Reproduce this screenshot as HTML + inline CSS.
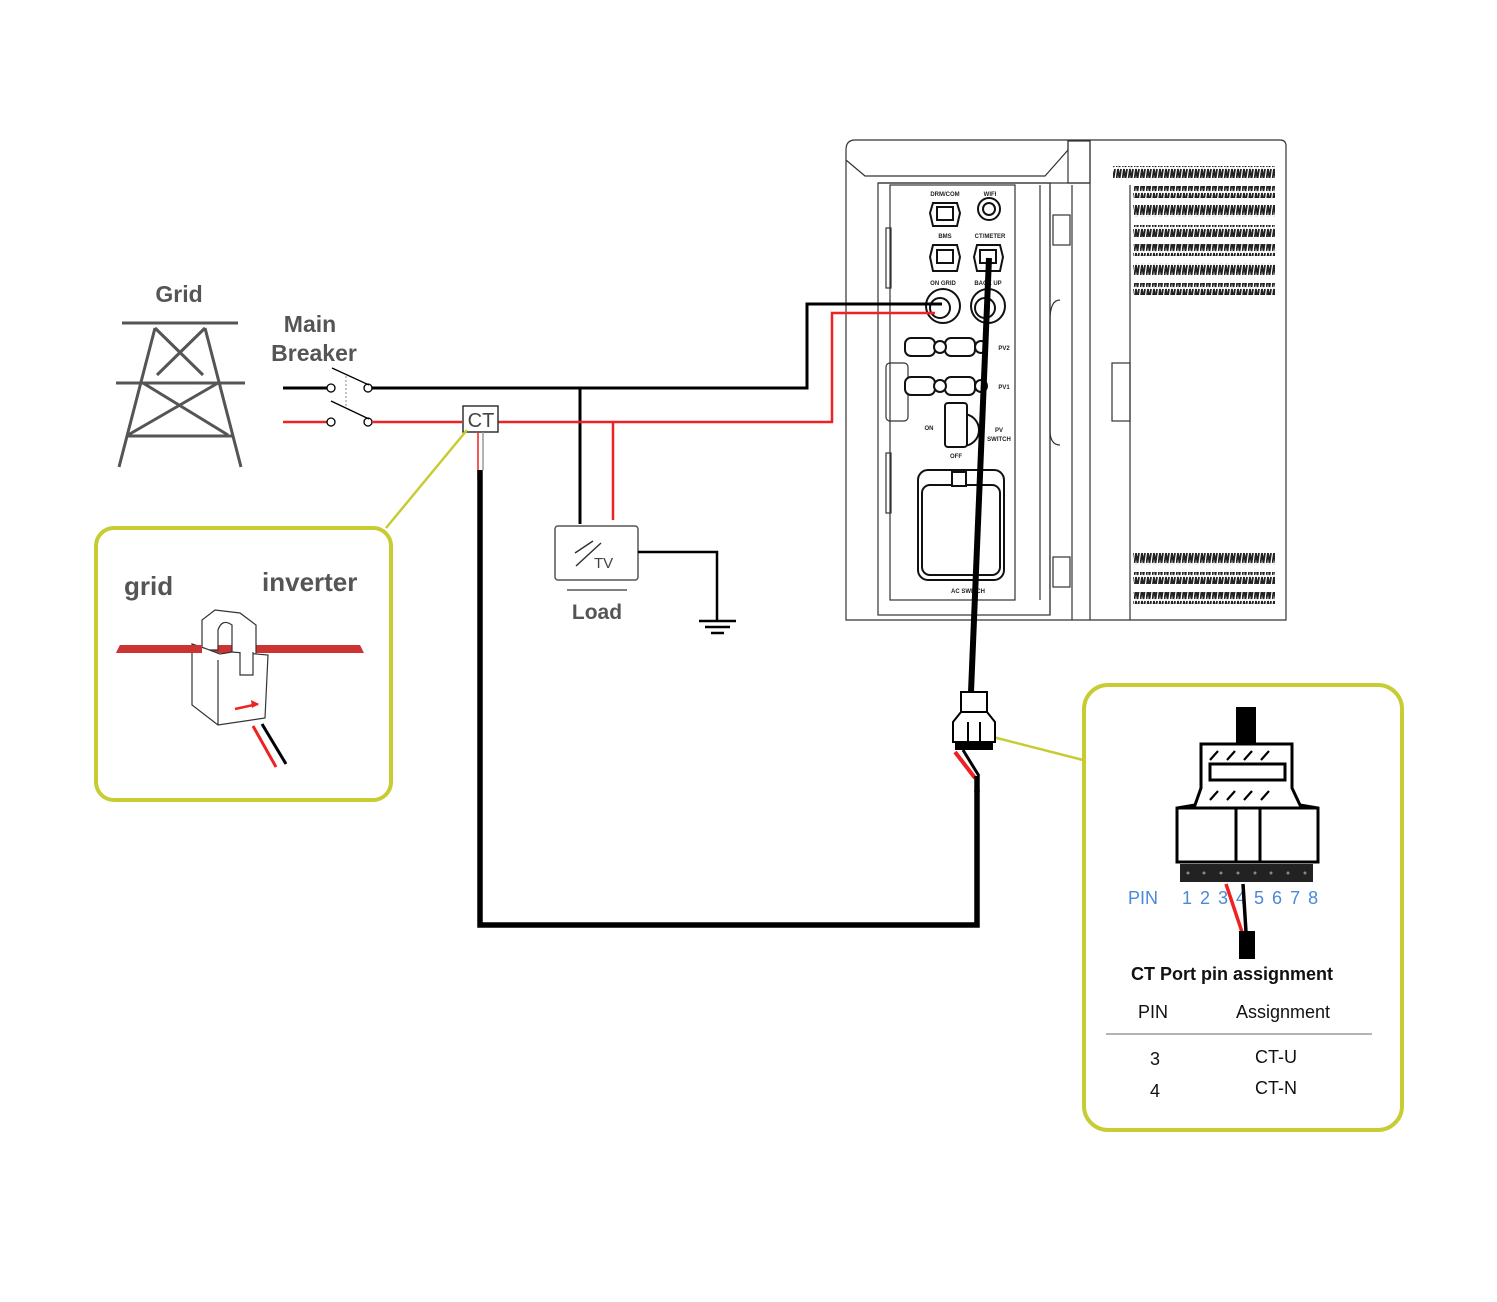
<!DOCTYPE html>
<html><head><meta charset="utf-8">
<style>
html,body{margin:0;padding:0;background:#fff;}
svg{display:block;}
text{font-family:"Liberation Sans",Arial,sans-serif;}
</style></head>
<body>
<svg width="1497" height="1302" viewBox="0 0 1497 1302" xmlns="http://www.w3.org/2000/svg">
<defs>
<pattern id="vent" x="0" y="0" width="6" height="12" patternUnits="userSpaceOnUse">
<path d="M0.5,11 L2,1 L3.5,11 L5,1" fill="none" stroke="#222" stroke-width="1.8"/>
</pattern>
</defs>

<!-- Grid tower -->
<g stroke="#555" stroke-width="3" fill="none">
<line x1="122" y1="323" x2="238" y2="323"/>
<line x1="116" y1="383" x2="245" y2="383"/>
<line x1="155" y1="328" x2="119" y2="467"/>
<line x1="205" y1="328" x2="241" y2="467"/>
<line x1="155" y1="328" x2="203" y2="375"/>
<line x1="205" y1="328" x2="157" y2="375"/>
<line x1="143" y1="383" x2="228" y2="435"/>
<line x1="218" y1="383" x2="128" y2="435"/>
<line x1="127" y1="436" x2="233" y2="436"/>
</g>
<text x="179" y="302" font-size="23" font-weight="bold" fill="#555" text-anchor="middle">Grid</text>
<text x="310" y="332" font-size="23" font-weight="bold" fill="#555" text-anchor="middle">Main</text>
<text x="314" y="361" font-size="23" font-weight="bold" fill="#555" text-anchor="middle">Breaker</text>

<!-- Breaker -->
<line x1="283" y1="388" x2="327" y2="388" stroke="#000" stroke-width="3"/>
<line x1="283" y1="422" x2="327" y2="422" stroke="#e22" stroke-width="2.5"/>
<circle cx="331" cy="388" r="4" fill="#fff" stroke="#000" stroke-width="1.3"/>
<circle cx="368" cy="388" r="4" fill="#fff" stroke="#000" stroke-width="1.3"/>
<circle cx="331" cy="422" r="4" fill="#fff" stroke="#000" stroke-width="1.3"/>
<circle cx="368" cy="422" r="4" fill="#fff" stroke="#000" stroke-width="1.3"/>
<line x1="332" y1="368" x2="369" y2="385" stroke="#000" stroke-width="1.3"/>
<line x1="331" y1="401" x2="369" y2="419" stroke="#000" stroke-width="1.3"/>
<line x1="346" y1="376" x2="346" y2="408" stroke="#888" stroke-width="1" stroke-dasharray="2,2"/>

<!-- Inverter -->
<g stroke="#333" stroke-width="1.2" fill="none">
<path d="M855,140 L1280,140 Q1286,140 1286,146 L1286,620 L846,620 L846,150 Q846,140 855,140 Z" fill="#fff"/>
<path d="M846,160 L865,176 L1045,176 L1068,150 L1068,140"/>
<rect x="1068" y="141" width="22" height="42"/>
<line x1="1090" y1="140" x2="1090" y2="620"/>
<line x1="878" y1="183" x2="1090" y2="183"/>
<rect x="878" y="183" width="172" height="432"/>
<rect x="890" y="185" width="125" height="415"/>
<line x1="1040" y1="185" x2="1040" y2="600"/>
<line x1="1050" y1="185" x2="1050" y2="615"/>
<line x1="1072" y1="185" x2="1072" y2="620"/>
<line x1="1130" y1="185" x2="1130" y2="620"/>
<rect x="1112" y="363" width="18" height="58"/>
<rect x="1053" y="215" width="17" height="30"/>
<rect x="1053" y="557" width="17" height="30"/>
<path d="M1060,300 Q1050,300 1050,320 L1050,430 Q1050,445 1060,445"/>
<rect x="886" y="363" width="22" height="58" rx="4"/>
<rect x="886" y="228" width="5" height="60"/>
<rect x="886" y="453" width="5" height="60"/>
</g>
<!-- vents -->
<g fill="url(#vent)">
<rect x="1113" y="166" width="162" height="12"/>
<rect x="1133" y="186" width="142" height="12"/>
<rect x="1133" y="205" width="142" height="12"/>
<rect x="1133" y="225" width="142" height="12"/>
<rect x="1133" y="244" width="142" height="12"/>
<rect x="1133" y="263" width="142" height="12"/>
<rect x="1133" y="283" width="142" height="12"/>
<rect x="1133" y="553" width="142" height="12"/>
<rect x="1133" y="572" width="142" height="12"/>
<rect x="1133" y="592" width="142" height="12"/>
</g>
<!-- ports -->
<g stroke="#111" stroke-width="2" fill="#fff">
<polygon points="933,203 957,203 960,213 957,226 933,226 930,213"/>
<rect x="937" y="207" width="16" height="13"/>
<circle cx="989" cy="209" r="11"/><circle cx="989" cy="209" r="6"/>
<polygon points="933,245 957,245 960,257 957,271 933,271 930,257"/>
<rect x="937" y="250" width="16" height="13"/>
<polygon points="977,245 1000,245 1003,257 1000,271 977,271 974,257"/>
<rect x="980" y="250" width="16" height="13"/>
<circle cx="943" cy="306" r="17"/><circle cx="940" cy="308" r="10"/>
<circle cx="988" cy="306" r="17"/><circle cx="985" cy="308" r="10"/>
<rect x="905" y="338" width="30" height="18" rx="6"/><rect x="945" y="338" width="30" height="18" rx="6"/>
<rect x="905" y="377" width="30" height="18" rx="6"/><rect x="945" y="377" width="30" height="18" rx="6"/>
<circle cx="940" cy="347" r="6"/><circle cx="981" cy="347" r="6"/>
<circle cx="940" cy="386" r="6"/><circle cx="981" cy="386" r="6"/>
<circle cx="963" cy="430" r="16"/>
<rect x="945" y="403" width="22" height="44" rx="3"/>
<rect x="918" y="470" width="86" height="110" rx="10"/>
<rect x="922" y="485" width="78" height="90" rx="8"/>
<rect x="952" y="472" width="14" height="14"/>
</g>
<g font-size="6" font-weight="bold" fill="#222" text-anchor="middle">
<text x="945" y="196">DRM/COM</text><text x="990" y="196">WIFI</text>
<text x="945" y="238">BMS</text><text x="990" y="238">CT/METER</text>
<text x="943" y="285">ON GRID</text><text x="988" y="285">BACK UP</text>
<text x="1004" y="350">PV2</text><text x="1004" y="389">PV1</text>
<text x="929" y="430">ON</text><text x="999" y="432">PV</text><text x="999" y="441">SWITCH</text>
<text x="956" y="458">OFF</text><text x="968" y="593">AC SWITCH</text>
</g>

<!-- Main black wire -->
<polyline points="372,388 807,388 807,304 942,304" fill="none" stroke="#000" stroke-width="3"/>
<line x1="580" y1="388" x2="580" y2="524" stroke="#000" stroke-width="3"/>
<!-- Main red wire -->
<polyline points="372,422 462,422" fill="none" stroke="#e22" stroke-width="2.5"/>
<polyline points="498,422 832,422 832,313 935,313" fill="none" stroke="#e22" stroke-width="2.5"/>
<line x1="613" y1="422" x2="613" y2="520" stroke="#e22" stroke-width="2.5"/>

<!-- CT box -->
<rect x="463" y="406" width="35" height="26" fill="#fff" stroke="#333" stroke-width="1.5"/>
<text x="481" y="427" font-size="20" fill="#444" text-anchor="middle">CT</text>
<line x1="478" y1="432" x2="478" y2="480" stroke="#e22" stroke-width="1.5"/>
<line x1="483" y1="432" x2="483" y2="470" stroke="#999" stroke-width="1.5"/>
<polyline points="480,470 480,925 977,925 977,790" fill="none" stroke="#000" stroke-width="5.5"/>

<!-- yellow leaders -->
<line x1="467" y1="430" x2="386" y2="528" stroke="#c8cc33" stroke-width="2.5"/>
<line x1="993" y1="737" x2="1083" y2="760" stroke="#c8cc33" stroke-width="2.5"/>

<!-- Left callout -->
<rect x="96" y="528" width="295" height="272" rx="18" fill="#fff" stroke="#c8cc33" stroke-width="4"/>
<text x="124" y="595" font-size="26" font-weight="bold" fill="#555">grid</text>
<text x="262" y="591" font-size="26" font-weight="bold" fill="#555">inverter</text>
<polygon points="120,645 360,645 364,653 116,653" fill="#cc3333"/>
<g stroke="#333" stroke-width="1.2" fill="#fff">
<path d="M202,620 L202,650 L218,650 L218,630 Q222,618 232,625 L232,660 L256,662 L256,625 L240,613 L215,610 Z"/>
<path d="M192,644 L192,705 L218,725 L265,718 L268,655 L232,652 L220,654 L204,648 Z"/>
<line x1="218" y1="660" x2="218" y2="725"/>
<path d="M240,652 L240,675 L253,675 L253,652"/>
</g>
<polygon points="120,645 202,645 202,653 116,653" fill="#cc3333"/>
<line x1="235" y1="709" x2="258" y2="704" stroke="#e22" stroke-width="2.5"/>
<polygon points="259,704 251,700 252,708" fill="#e22"/>
<line x1="253" y1="726" x2="276" y2="767" stroke="#e22" stroke-width="3"/>
<line x1="262" y1="724" x2="286" y2="764" stroke="#000" stroke-width="3"/>

<!-- Load -->
<rect x="555" y="526" width="83" height="54" rx="3" fill="#fff" stroke="#555" stroke-width="1.5"/>
<line x1="575" y1="553" x2="593" y2="541" stroke="#333" stroke-width="1.5"/>
<line x1="576" y1="566" x2="601" y2="543" stroke="#333" stroke-width="1.5"/>
<text x="594" y="568" font-size="15" fill="#444">TV</text>
<line x1="567" y1="590" x2="627" y2="590" stroke="#555" stroke-width="1.5"/>
<text x="597" y="619" font-size="21" font-weight="bold" fill="#555" text-anchor="middle">Load</text>
<polyline points="638,552 717,552 717,621" fill="none" stroke="#000" stroke-width="2.5"/>
<line x1="699" y1="621" x2="736" y2="621" stroke="#000" stroke-width="2.5"/>
<line x1="705" y1="627" x2="730" y2="627" stroke="#000" stroke-width="2.5"/>
<line x1="711" y1="633" x2="724" y2="633" stroke="#000" stroke-width="2.5"/>

<!-- CT cable to inverter -->
<line x1="989" y1="258" x2="971" y2="692" stroke="#000" stroke-width="6"/>
<!-- small connector -->
<g stroke="#000" stroke-width="2" fill="#fff">
<rect x="961" y="692" width="26" height="20"/>
<path d="M961,712 L953,722 L953,742 L995,742 L995,722 L987,712 Z"/>
<line x1="968" y1="722" x2="968" y2="742"/><line x1="980" y1="722" x2="980" y2="742"/>
</g>
<rect x="955" y="742" width="38" height="8" fill="#000"/>
<line x1="955" y1="752" x2="975" y2="778" stroke="#e22" stroke-width="4"/>
<line x1="963" y1="750" x2="979" y2="776" stroke="#000" stroke-width="3"/>
<line x1="977" y1="776" x2="977" y2="792" stroke="#000" stroke-width="5.5"/>

<!-- Right callout -->
<rect x="1084" y="685" width="318" height="445" rx="24" fill="#fff" stroke="#c8cc33" stroke-width="4"/>
<rect x="1236" y="707" width="20" height="38" fill="#000"/>
<g stroke="#000" stroke-width="3" fill="#fff">
<path d="M1201,744 L1292,744 L1292,788 L1300,805 L1318,808 L1318,862 L1177,862 L1177,808 L1195,805 L1201,788 Z"/>
<rect x="1210" y="764" width="75" height="16"/>
<line x1="1236" y1="808" x2="1236" y2="862"/><line x1="1260" y1="808" x2="1260" y2="862"/>
<line x1="1177" y1="808" x2="1318" y2="808"/>
</g>
<g stroke="#000" stroke-width="2.2" fill="none">
<path d="M1210,760 l8,-9 M1227,760 l8,-9 M1244,760 l8,-9 M1261,760 l8,-9"/>
<path d="M1210,800 l8,-9 M1227,800 l8,-9 M1244,800 l8,-9 M1261,800 l8,-9"/>
</g>
<rect x="1180" y="864" width="133" height="18" fill="#222"/>
<g fill="#888"><circle cx="1188" cy="873" r="1.5"/><circle cx="1204" cy="873" r="1.5"/><circle cx="1221" cy="873" r="1.5"/><circle cx="1238" cy="873" r="1.5"/><circle cx="1255" cy="873" r="1.5"/><circle cx="1271" cy="873" r="1.5"/><circle cx="1288" cy="873" r="1.5"/><circle cx="1305" cy="873" r="1.5"/></g>
<g font-size="18" fill="#4a88d8">
<text x="1128" y="904">PIN</text>
<text x="1182" y="904" letter-spacing="1.5">1 2 3 4 5 6 7 8</text>
</g>
<line x1="1226" y1="884" x2="1242" y2="932" stroke="#e22" stroke-width="3.5"/>
<line x1="1243" y1="884" x2="1246" y2="932" stroke="#000" stroke-width="3.5"/>
<rect x="1239" y="931" width="16" height="28" fill="#000"/>
<text x="1232" y="980" font-size="18" font-weight="bold" fill="#111" text-anchor="middle">CT Port pin assignment</text>
<text x="1153" y="1018" font-size="18" fill="#111" text-anchor="middle">PIN</text>
<text x="1283" y="1018" font-size="18" fill="#111" text-anchor="middle">Assignment</text>
<line x1="1106" y1="1034" x2="1372" y2="1034" stroke="#888" stroke-width="1.3"/>
<text x="1155" y="1065" font-size="18" fill="#111" text-anchor="middle">3</text>
<text x="1276" y="1063" font-size="18" fill="#111" text-anchor="middle">CT-U</text>
<text x="1155" y="1097" font-size="18" fill="#111" text-anchor="middle">4</text>
<text x="1276" y="1094" font-size="18" fill="#111" text-anchor="middle">CT-N</text>
</svg>
</body></html>
